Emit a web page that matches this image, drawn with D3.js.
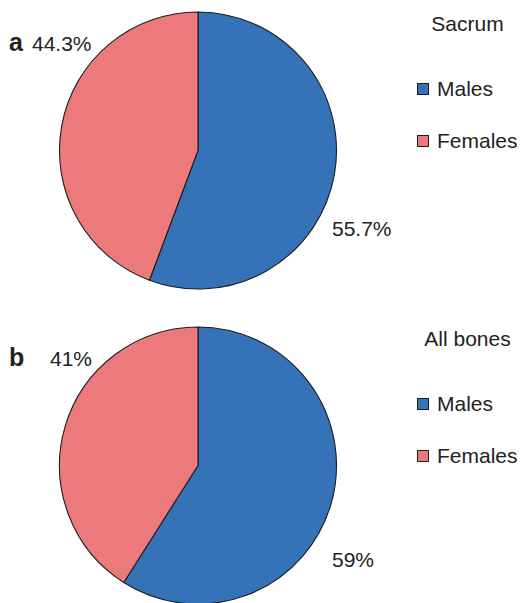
<!DOCTYPE html>
<html>
<head>
<meta charset="utf-8">
<script src="https://cdn.jsdelivr.net/npm/d3@7"></script>
<style>
  html, body { margin: 0; padding: 0; background: #fff; }
  svg { display: block; }
  text { font-family: "Liberation Sans", Arial, sans-serif; fill: #222; }
</style>
</head>
<body>
<svg id="chart" width="520" height="603"></svg>
<script>
// Sex distribution of cases, by bone group
const panels = ["a", "b"];
const titles = ["Sacrum", "All bones"];
const categories = ["Males", "Females"];
const maleShare = [55.7, 59];
const femaleShare = [44.3, 41];
const valueLabels = [["55.7%", "44.3%"], ["59%", "41%"]];

const colors = d3.scaleOrdinal().domain(categories).range(["#3572b7", "#ec7a7c"]);

const svg = d3.select("#chart");
const panelY = d3.scaleBand().domain(panels).range([0, 630]);
const radius = 138.5;
const cx = 198;
const fontSize = 21;

const pie = d3.pie().sort(null).value(d => d.value);
const arc = d3.arc().innerRadius(0).outerRadius(radius);

// label offsets from pie centre: [male, female] per panel
const labelOffsets = [
  [[134, 85], [-166, -100]],
  [[134, 101], [-148, -100]]
];

panels.forEach((p, i) => {
  const cy = panelY(p) + 150.5;
  const data = [
    { key: categories[0], value: maleShare[i] },
    { key: categories[1], value: femaleShare[i] }
  ];
  const g = svg.append("g").attr("transform", `translate(${cx},${cy})`);
  g.selectAll("path")
    .data(pie(data))
    .join("path")
    .attr("d", arc)
    .attr("fill", d => colors(d.data.key))
    .attr("stroke", "#1d1d1d")
    .attr("stroke-width", 1.1)
    .attr("stroke-linejoin", "round");

  // value labels
  data.forEach((d, j) => {
    g.append("text")
      .attr("x", labelOffsets[i][j][0])
      .attr("y", labelOffsets[i][j][1])
      .attr("font-size", fontSize)
      .text(valueLabels[i][j]);
  });

  // panel letter
  svg.append("text")
    .attr("x", 9)
    .attr("y", cy - 100)
    .attr("font-size", 25)
    .attr("font-weight", "bold")
    .text(p);

  // legend
  const lg = svg.append("g").attr("transform", `translate(417,${cy})`);
  lg.append("text")
    .attr("x", 50.5)
    .attr("y", -119.5)
    .attr("text-anchor", "middle")
    .attr("font-size", fontSize)
    .text(titles[i]);
  const items = lg.selectAll("g.item")
    .data(categories)
    .join("g")
    .attr("class", "item")
    .attr("transform", (d, k) => `translate(0,${-67.5 + k * 52})`);
  items.append("rect")
    .attr("x", 0.5)
    .attr("y", 0.5)
    .attr("width", 11)
    .attr("height", 11)
    .attr("fill", d => colors(d))
    .attr("stroke", "#1d1d1d")
    .attr("stroke-width", 1);
  items.append("text")
    .attr("x", 20)
    .attr("y", 13)
    .attr("font-size", fontSize)
    .text(d => d);
});
</script>
</body>
</html>
